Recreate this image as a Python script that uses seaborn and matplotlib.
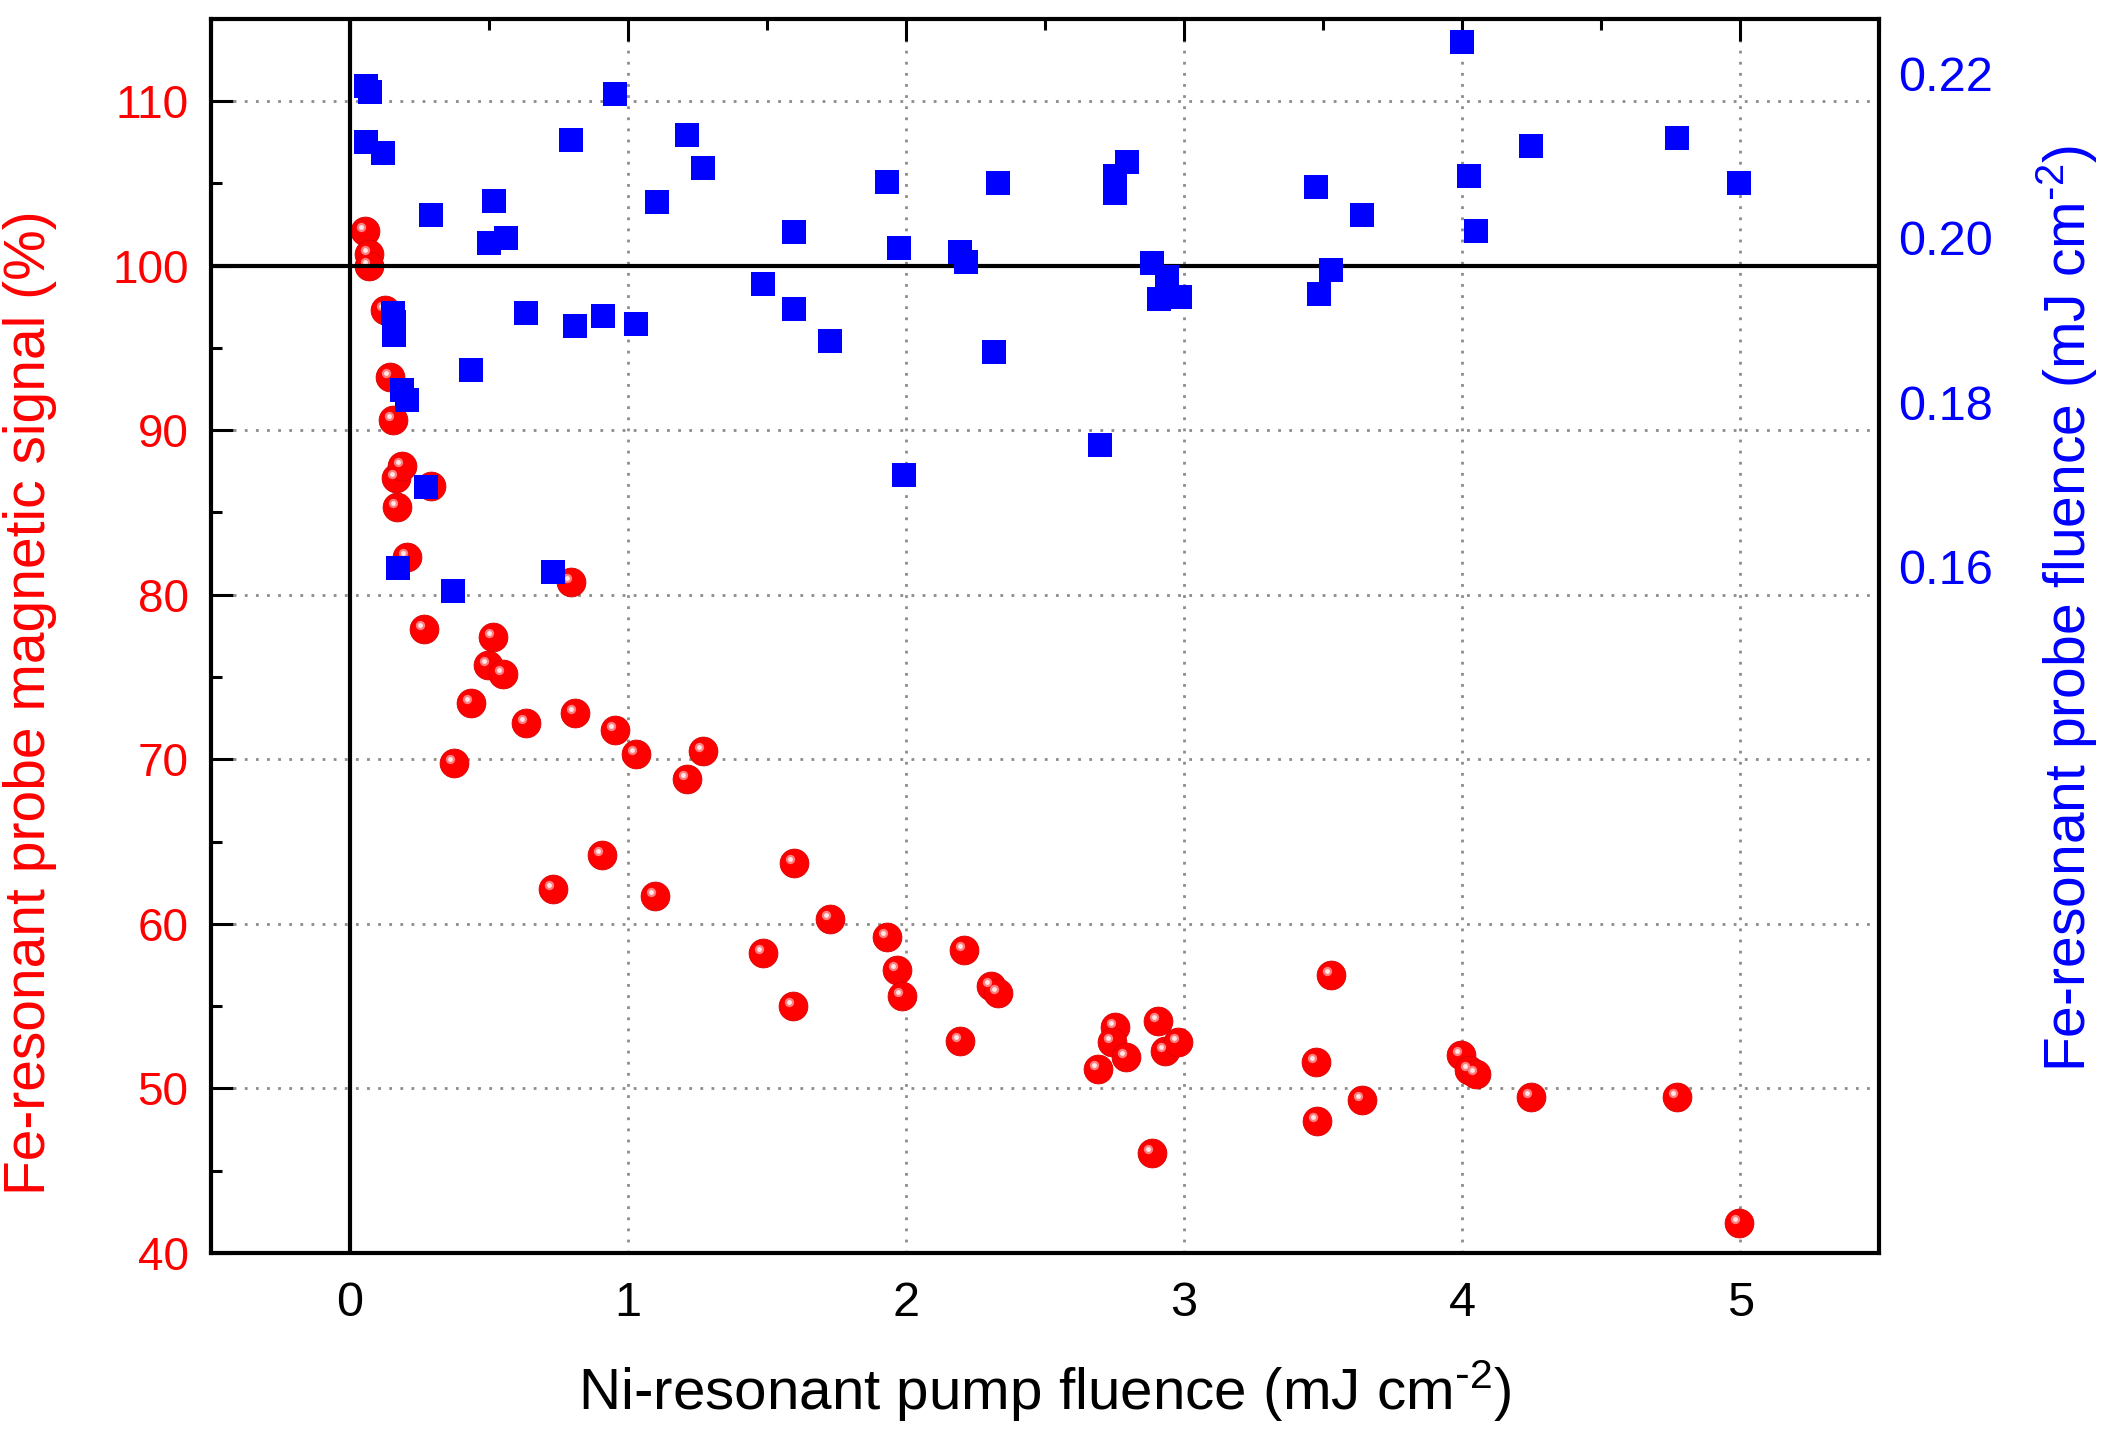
import matplotlib
matplotlib.use("Agg")
import matplotlib.pyplot as plt
import matplotlib.transforms as mtransforms
from matplotlib import font_manager
from matplotlib.ticker import MultipleLocator, FixedLocator
import numpy as np
import pandas as pd
import seaborn as sns

# Ni-resonant pump fluence (mJ cm^-2) for the magnetic signal (red spheres)
red_x = [0.053, 0.068, 0.068, 0.125, 0.145, 0.154, 0.164, 0.188, 0.169, 0.29,
         0.207, 0.265, 0.796, 0.516, 0.497, 0.55, 0.434, 0.632, 0.376, 0.81,
         0.955, 1.028, 1.211, 1.27, 0.907, 0.729, 1.096, 1.597, 1.728, 1.486,
         1.93, 1.593, 1.969, 1.984, 2.21, 2.307, 2.331, 2.196, 2.751, 2.74,
         2.79, 2.69, 2.905, 2.93, 2.98, 2.886, 3.528, 3.475, 3.48, 3.64,
         3.996, 4.025, 4.05, 4.247, 4.773, 4.995]
# Fe-resonant probe magnetic signal (%)
red_y = [102.1, 100.7, 100.0, 97.3, 93.2, 90.6, 87.1, 87.8, 85.3, 86.6,
         82.3, 77.9, 80.8, 77.4, 75.7, 75.2, 73.4, 72.2, 69.8, 72.8,
         71.8, 70.3, 68.8, 70.5, 64.2, 62.1, 61.7, 63.7, 60.3, 58.2,
         59.2, 55.0, 57.2, 55.6, 58.4, 56.2, 55.8, 52.9, 53.7, 52.8,
         51.9, 51.2, 54.1, 52.3, 52.8, 46.1, 56.9, 51.6, 48.0, 49.3,
         52.0, 51.1, 50.9, 49.5, 49.5, 41.8]

# pump fluence for the probe fluence points (blue squares)
blue_x = [0.058, 0.072, 0.058, 0.12, 0.29, 0.52, 0.50, 0.56, 0.154, 0.159,
          0.159, 0.188, 0.207, 0.275, 0.174, 0.372, 0.434, 0.632, 0.729, 0.796,
          0.81, 0.912, 0.955, 1.028, 1.105, 1.211, 1.27, 1.486, 1.597, 1.597,
          1.728, 1.93, 1.974, 1.993, 2.196, 2.215, 2.317, 2.331, 2.698, 2.751,
          2.751, 2.795, 2.886, 2.94, 2.91, 2.987, 3.475, 3.485, 3.528, 3.64,
          4.0, 4.025, 4.05, 4.247, 4.773, 4.995]
# Fe-resonant probe fluence (mJ cm^-2)
blue_y = [0.2184, 0.2177, 0.2116, 0.2103, 0.2028, 0.2044, 0.1993, 0.2000, 0.1908, 0.1897,
          0.1882, 0.1815, 0.1802, 0.1697, 0.1598, 0.1570, 0.1839, 0.1908, 0.1593, 0.2118,
          0.1893, 0.1905, 0.2174, 0.1895, 0.2043, 0.2125, 0.2084, 0.1944, 0.1913, 0.2007,
          0.1874, 0.2067, 0.1987, 0.1711, 0.1982, 0.1970, 0.1861, 0.2066, 0.1748, 0.2075,
          0.2054, 0.2092, 0.1969, 0.1952, 0.1925, 0.1928, 0.2062, 0.1931, 0.1961, 0.2028,
          0.2238, 0.2075, 0.2008, 0.2111, 0.2121, 0.2066]

left_ticks = [40, 50, 60, 70, 80, 90, 100, 110]
right_ticks = [0.16, 0.18, 0.20, 0.22]
x_ticks = [0, 1, 2, 3, 4, 5]

df_red = pd.DataFrame({'pump': red_x, 'signal': red_y})
df_blue = pd.DataFrame({'pump': blue_x, 'probe': blue_y})

sns.set_style("white")
plt.rcParams['font.family'] = ['Liberation Sans', 'DejaVu Sans']
plt.rcParams['mathtext.default'] = 'regular'

names = {f.name for f in font_manager.fontManager.ttflist}
narrow = 'Liberation Sans Narrow' if 'Liberation Sans Narrow' in names else 'Liberation Sans'

RED = '#FF0000'
BLUE = '#0000FF'

fig = plt.figure(figsize=(21.09, 14.38), dpi=100)
ax = fig.add_axes([0.100, 0.1287, 0.791, 0.8583])

# red spheres: base marker + small highlight
sns.scatterplot(data=df_red, x='pump', y='signal', ax=ax, color=RED, s=430,
                marker='o', edgecolor='#D80000', linewidth=0.6, zorder=3, legend=False)
hl = mtransforms.offset_copy(ax.transData, fig=fig, x=-4, y=4, units='dots')
ax.scatter(df_red['pump'], df_red['signal'], s=45, color='#FF8080', linewidths=0,
           transform=hl, zorder=3.1)
ax.scatter(df_red['pump'], df_red['signal'], s=12, color='#FFE8E8', linewidths=0,
           transform=hl, zorder=3.2)

ax.axhline(100, color='black', lw=3, zorder=4)
ax.axvline(0, color='black', lw=3, zorder=4)

ax.set_xlim(-0.5, 5.5)
ax.set_ylim(40, 115)
ax.xaxis.set_major_locator(FixedLocator(x_ticks))
ax.xaxis.set_minor_locator(MultipleLocator(0.5))
ax.yaxis.set_major_locator(FixedLocator(left_ticks))
ax.yaxis.set_minor_locator(MultipleLocator(5))

ax.grid(True, which='major', color='#8c8c8c', linestyle=(0, (1, 3)), linewidth=2, zorder=1)
ax.set_axisbelow(True)

ax.tick_params(which='both', direction='in', top=True, right=True, width=2.2, color='black')
ax.tick_params(which='major', length=16)
ax.tick_params(which='minor', length=8)
ax.tick_params(axis='y', labelcolor=RED, labelsize=33, pad=16)
ax.tick_params(axis='x', labelcolor='black', labelsize=35, pad=20)
for lab in ax.get_xticklabels():
    lab.set_fontfamily(narrow)
for sp in ax.spines.values():
    sp.set_linewidth(3)
    sp.set_color('black')

ax.set_xlabel(r'Ni-resonant pump fluence (mJ cm$^{\text{-}2}$)', fontsize=42, color='black')
ax.set_ylabel('Fe-resonant probe magnetic signal (%)', fontsize=41, color=RED)
ax.xaxis.set_label_coords(0.5, -0.085)
ax.yaxis.set_label_coords(-0.092, 0.446)

# blue squares on the right scale
ax2 = ax.twinx()
sns.scatterplot(data=df_blue, x='pump', y='probe', ax=ax2, color=BLUE, s=285,
                marker='s', linewidth=0, zorder=5, legend=False)
ax2.set_ylim(0.0766, 0.2266)
ax2.yaxis.set_major_locator(FixedLocator(right_ticks))
ax2.set_yticklabels(['0.16', '0.18', '0.20', '0.22'])
ax2.tick_params(axis='y', length=0, labelcolor=BLUE, labelsize=35, pad=14)
ax2.set_ylabel(r'Fe-resonant probe fluence (mJ cm$^{\text{-}2}$)', fontsize=41, color=BLUE,
               rotation=90)
ax2.yaxis.set_label_coords(1.093, 0.522)
ax2.set_xlabel('')
for sp in ax2.spines.values():
    sp.set_visible(False)

fig.savefig('out.png', dpi=100)
